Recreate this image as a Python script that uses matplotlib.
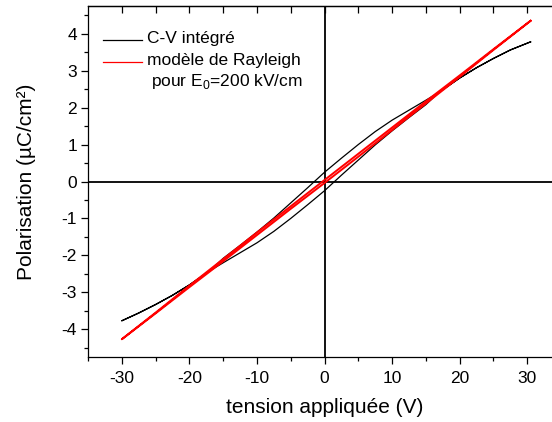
"""Cycle P-V : C-V intégré et modèle de Rayleigh."""
import matplotlib

matplotlib.use("Agg")
import matplotlib.pyplot as plt  # noqa: E402
from matplotlib.lines import Line2D  # noqa: E402
from matplotlib.ticker import MultipleLocator  # noqa: E402

plt.rcParams["font.family"] = ["Liberation Sans", "DejaVu Sans"]
plt.rcParams["mathtext.fontset"] = "custom"
plt.rcParams["mathtext.rm"] = "Liberation Sans"
plt.rcParams["axes.unicode_minus"] = False

# C-V intégré : branche descendante puis branche montante
cv_down_v = [30.5, 27.5, 25, 22.5, 20, 17, 15, 12.5, 10, 7.5, 5, 2.5, 0,
             -2.5, -5, -7.5, -10, -12.5, -15, -17, -20, -22.5, -25, -27.5, -30]
cv_down_p = [3.78, 3.56, 3.33, 3.08, 2.80, 2.42, 2.20, 1.93, 1.66, 1.35, 1.00, 0.63, 0.25,
             -0.17, -0.58, -0.99, -1.37, -1.73, -2.08, -2.42, -2.80, -3.08, -3.33, -3.56, -3.77]
cv_up_v = [-30, -27.5, -25, -22.5, -20, -17, -15, -12.5, -10, -7.5, -5, -2.5, 0,
           2.5, 5, 7.5, 10, 12.5, 15, 17, 20, 22.5, 25, 27.5, 30.5]
cv_up_p = [-3.77, -3.56, -3.33, -3.08, -2.80, -2.42, -2.20, -1.93, -1.66, -1.35, -1.00, -0.63, -0.25,
           0.17, 0.58, 0.99, 1.37, 1.73, 2.08, 2.42, 2.80, 3.08, 3.33, 3.56, 3.78]

# modèle de Rayleigh (E0 = 200 kV/cm)
ray_down_v = [30.5, 25, 20, 15, 10, 5, 0, -5, -10, -15, -20, -25, -30]
ray_down_p = [4.35, 3.58, 2.87, 2.17, 1.46, 0.75, 0.04, -0.67, -1.38, -2.10, -2.82, -3.55, -4.27]
ray_up_v = [-30, -25, -20, -15, -10, -5, 0, 5, 10, 15, 20, 25, 30.5]
ray_up_p = [-4.27, -3.57, -2.86, -2.16, -1.45, -0.74, -0.04, 0.67, 1.39, 2.11, 2.83, 3.56, 4.35]

x_ticks = [-30, -20, -10, 0, 10, 20, 30]
y_ticks = [-4, -3, -2, -1, 0, 1, 2, 3, 4]

fig = plt.figure(figsize=(5.52, 4.22), dpi=100)
ax = fig.add_axes([88 / 552, 65 / 422, 473 / 552, 351 / 422])

ax.axhline(0, color="black", lw=1.3, zorder=1)
ax.axvline(0, color="black", lw=1.3, zorder=1)

ax.plot(cv_down_v + cv_up_v, cv_down_p + cv_up_p, color="black", lw=0.9, zorder=2)
ax.plot(ray_down_v + ray_up_v, ray_down_p + ray_up_p, color="#ff0000", lw=1.4, zorder=3)

ax.set_xlim(-35, 35)
ax.set_ylim(-4.75, 4.75)
ax.set_xticks(x_ticks)
ax.set_yticks(y_ticks)
ax.xaxis.set_minor_locator(MultipleLocator(5))
ax.yaxis.set_minor_locator(MultipleLocator(0.5))
ax.tick_params(which="major", direction="out", length=5, width=0.9, labelsize=12.5, pad=3)
ax.tick_params(which="minor", direction="out", length=3, width=0.9)
ax.tick_params(axis="x", pad=5)

top = ax.secondary_xaxis("top")
top.set_xticks(range(-30, 35, 5))
top.tick_params(direction="in", length=5, width=0.9, labeltop=False)
top.set_xticklabels([])

for sp in ax.spines.values():
    sp.set_linewidth(0.9)
top.spines["top"].set_linewidth(0.9)

ax.set_xlabel("tension appliquée (V)", fontsize=15, labelpad=9)
ax.set_ylabel("Polarisation (µC/cm²)", fontsize=15, labelpad=18)

# légende
ax.add_line(Line2D([0.032, 0.114], [0.903, 0.903], transform=ax.transAxes, color="black", lw=0.9))
ax.add_line(Line2D([0.032, 0.114], [0.841, 0.841], transform=ax.transAxes, color="#ff0000", lw=0.9))
ax.text(0.125, 0.906, "C-V intégré", transform=ax.transAxes, fontsize=12.5, va="center")
ax.text(0.125, 0.844, "modèle de Rayleigh", transform=ax.transAxes, fontsize=12.5, va="center")
ax.text(0.133, 0.784, "pour E$_0$=200 kV/cm", transform=ax.transAxes, fontsize=12.5, va="center")

fig.savefig("out.png", dpi=100)
